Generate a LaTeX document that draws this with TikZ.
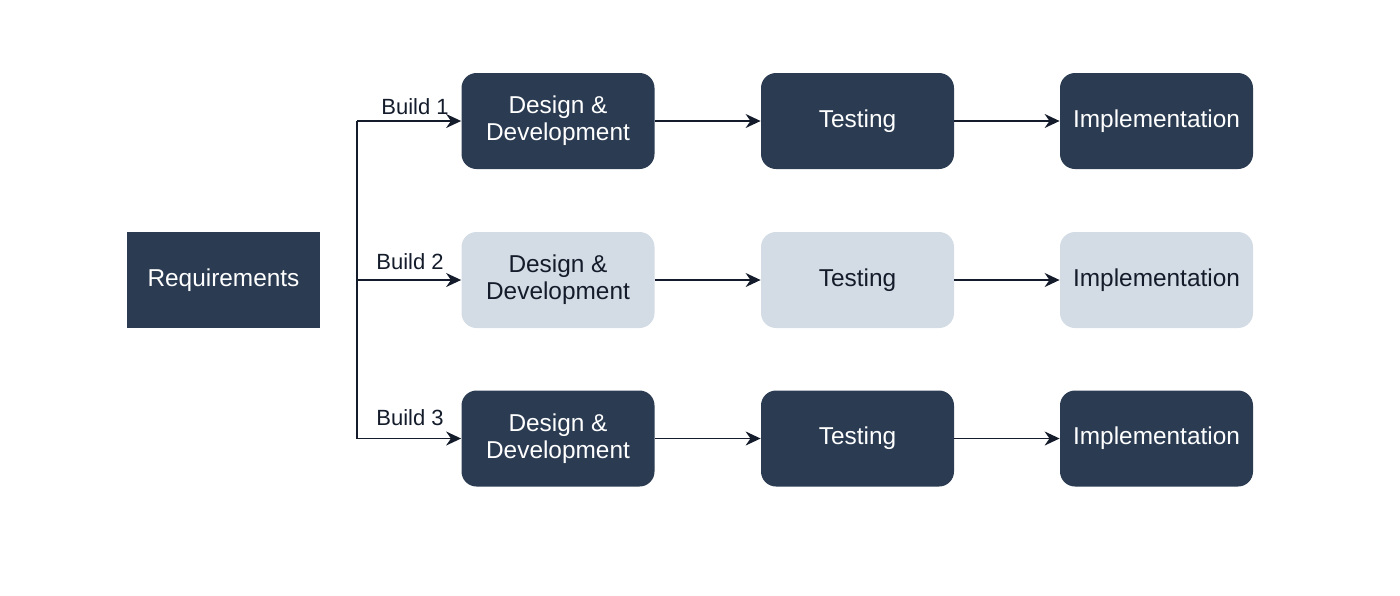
\documentclass[tikz,border=0pt]{standalone}
\usepackage{fontspec}
\setmainfont{Liberation Sans}
\usetikzlibrary{arrows.meta}
\definecolor{navy}{HTML}{2A3B52}
\definecolor{mist}{HTML}{D3DCE4}
\definecolor{ink}{HTML}{141C2B}

\begin{document}
\begin{tikzpicture}[x=0.5pt,y=-0.5pt,
    phase/.style={minimum width=96.5pt,minimum height=48pt,inner sep=0pt,
        align=center,font=\fontsize{12.2}{13.5}\selectfont},
    dark/.style={phase,fill=navy,text=white,rounded corners=7.5pt},
    light/.style={phase,fill=mist,text=ink,rounded corners=7.5pt},
    flow/.style={-{Stealth[length=7.5pt,width=7pt]},line width=0.75pt,draw=ink},
    tag/.style={font=\fontsize{11}{13}\selectfont,text=ink,inner sep=0pt}]

    % 背景
    \useasboundingbox (0,0) rectangle (1400,595);

    % パラメータの定義
    \pgfmathsetmacro{\xa}{558}
    \pgfmathsetmacro{\xb}{857.5}
    \pgfmathsetmacro{\xc}{1156.5}
    \pgfmathsetmacro{\xt}{357}

    % 要件
    \node[phase,fill=navy,text=white] (req) at (223.5,280) {Requirements};

    % 1行目
    \node[dark] (dd1) at (\xa,121) {Design \&\\Development};
    \node[dark] (te1) at (\xb,121) {Testing};
    \node[dark] (im1) at (\xc,121) {Implementation};

    % 2行目
    \node[light] (dd2) at (\xa,280) {Design \&\\Development};
    \node[light] (te2) at (\xb,280) {Testing};
    \node[light] (im2) at (\xc,280) {Implementation};

    % 3行目
    \node[dark] (dd3) at (\xa,438.5) {Design \&\\Development};
    \node[dark] (te3) at (\xb,438.5) {Testing};
    \node[dark] (im3) at (\xc,438.5) {Implementation};

    % 分岐点
    \coordinate (T1) at (\xt,121);
    \coordinate (T2) at (\xt,280);
    \coordinate (T3) at (\xt,438.5);

    % 幹線と分岐
    \draw[line width=0.75pt,draw=ink] (T1) -- (T3);
    \draw[flow] (T1) -- (dd1);
    \draw[flow] (T2) -- (dd2);
    \draw[flow] (T3) -- (dd3);

    % ラベル
    \node[tag] (b1) at (415,107) {Build 1};
    \node[tag] (b2) at (410,262) {Build 2};
    \node[tag] (b3) at (410,418) {Build 3};

    % 矢印の描画
    \draw[flow] (dd1) -- (te1);
    \draw[flow] (te1) -- (im1);
    \draw[flow] (dd2) -- (te2);
    \draw[flow] (te2) -- (im2);
    \draw[flow] (dd3) -- (te3);
    \draw[flow] (te3) -- (im3);

\end{tikzpicture}
\end{document}
